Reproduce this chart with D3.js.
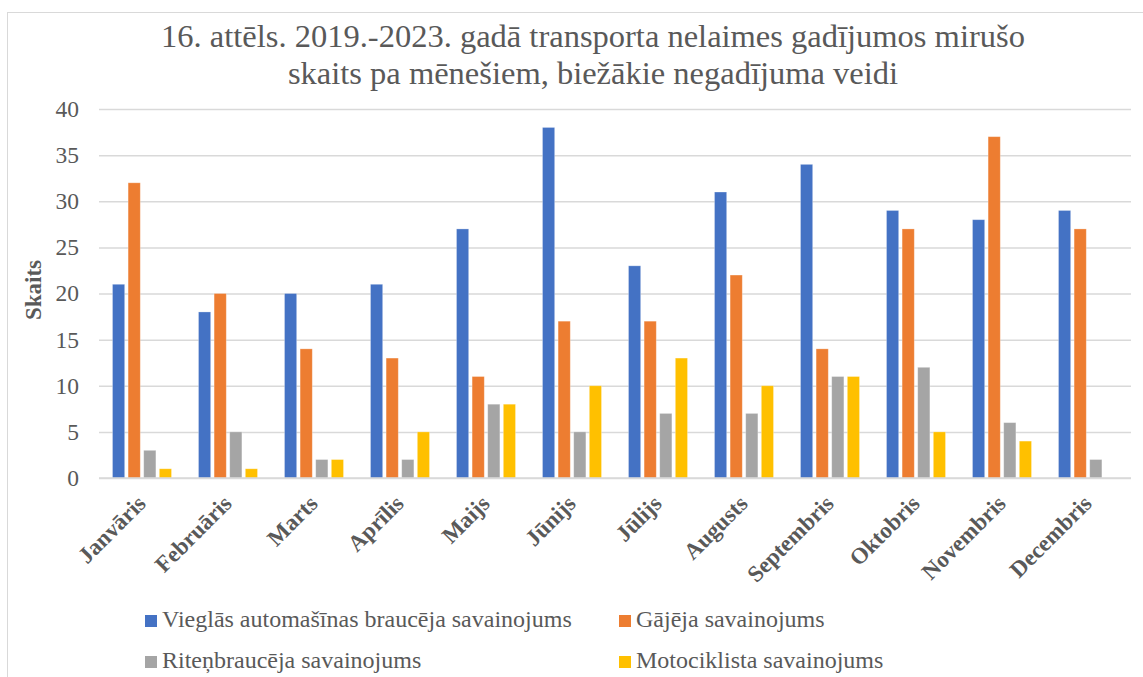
<!DOCTYPE html>
<html>
<head>
    <meta charset="utf-8">
    <title>16. attēls</title>
    <script src="https://d3js.org/d3.v7.min.js"></script>
</head>
<body style="margin:0;background:#fff">
    <script>
        const [width, height] = [1143, 677]
        const serif = "Liberation Serif";

        // data
        const months = ["Janvāris", "Februāris", "Marts", "Aprīlis", "Maijs", "Jūnijs",
            "Jūlijs", "Augusts", "Septembris", "Oktobris", "Novembris", "Decembris"];
        const seriesNames = ["Vieglās automašīnas braucēja savainojums", "Gājēja savainojums",
            "Riteņbraucēja savainojums", "Motociklista savainojums"];
        const seriesColors = ["#4472c4", "#ed7d31", "#a5a5a5", "#ffc000"];
        const carValues = [21, 18, 20, 21, 27, 38, 23, 31, 34, 29, 28, 29];
        const pedestrianValues = [32, 20, 14, 13, 11, 17, 17, 22, 14, 27, 37, 27];
        const cyclistValues = [3, 5, 2, 2, 8, 5, 7, 7, 11, 12, 6, 2];
        const motoValues = [1, 1, 2, 5, 8, 10, 13, 10, 11, 5, 4, 0];
        const yTicks = [0, 5, 10, 15, 20, 25, 30, 35, 40];
        const titleLines = ["16. attēls. 2019.-2023. gadā transporta nelaimes gadījumos mirušo",
            "skaits pa mēnešiem, biežākie negadījuma veidi"];

        const allValues = [carValues, pedestrianValues, cyclistValues, motoValues];
        const rows = months.map((m, i) => ({
            month: m,
            values: seriesNames.map((s, j) => ({ series: s, color: seriesColors[j], value: allValues[j][i] }))
        }));

        const svg = d3.select("body")
            .append("svg")
            .attr("width", width)
            .attr("height", height)
            .style("display", "block");

        // chart frame
        svg.append("rect")
            .attr("x", 7.5).attr("y", 12.5)
            .attr("width", 1160).attr("height", 700)
            .style("fill", "none")
            .style("stroke", "#d9d9d9")
            .style("stroke-width", 1);

        // title
        svg.append("g").selectAll("text")
            .data(titleLines)
            .enter()
            .append("text")
            .attr("x", 593)
            .attr("y", (d, i) => 47 + i * 37)
            .attr("text-anchor", "middle")
            .style("font-family", serif)
            .style("font-size", "32.5px")
            .style("fill", "#595959")
            .text(d => d);

        const x0 = d3.scaleBand().domain(months).range([99, 1131]).padding(0);
        const x1 = d3.scaleBand().domain(seriesNames).range([13.5, 72.5]).paddingInner(0.22);
        const y = d3.scaleLinear().domain([0, 40]).range([478, 109]);

        // gridlines
        svg.append("g")
            .attr("transform", "translate(99,0)")
            .call(d3.axisLeft(y).tickValues(yTicks).tickSize(-(1131 - 99)).tickFormat(""))
            .call(g => g.select(".domain").remove())
            .call(g => g.selectAll("line").style("stroke", "#d9d9d9").style("stroke-width", 1.5));

        // y tick labels
        svg.append("g").selectAll("text")
            .data(yTicks)
            .enter()
            .append("text")
            .attr("x", 79)
            .attr("y", d => y(d))
            .attr("dy", "0.34em")
            .attr("text-anchor", "end")
            .style("font-family", serif)
            .style("font-size", "23.5px")
            .style("fill", "#595959")
            .text(d => d);

        // y axis title
        svg.append("text")
            .attr("transform", "translate(41,290) rotate(-90)")
            .attr("text-anchor", "middle")
            .style("font-family", serif)
            .style("font-size", "23px")
            .style("font-weight", "bold")
            .style("fill", "#595959")
            .text("Skaits");

        // bars
        const group = svg.append("g").selectAll("g")
            .data(rows)
            .enter()
            .append("g")
            .attr("transform", d => `translate(${x0(d.month)},0)`);

        group.selectAll("rect")
            .data(d => d.values)
            .enter()
            .append("rect")
            .attr("x", d => x1(d.series))
            .attr("y", d => y(d.value))
            .attr("width", x1.bandwidth())
            .attr("height", d => y(0) - y(d.value))
            .style("fill", d => d.color)
            .style("stroke", "#fff")
            .style("stroke-opacity", 0.35)
            .style("stroke-width", 0.8);

        // baseline
        svg.append("line")
            .attr("x1", 99).attr("x2", 1131)
            .attr("y1", y(0)).attr("y2", y(0))
            .style("stroke", "#d9d9d9")
            .style("stroke-width", 1.5);

        // x labels
        svg.append("g").selectAll("text")
            .data(months)
            .enter()
            .append("text")
            .attr("transform", d => `translate(${x0(d) + x0.bandwidth() / 2 + 5},${505}) rotate(-45)`)
            .attr("text-anchor", "end")
            .style("font-family", serif)
            .style("font-size", "23px")
            .style("font-weight", "bold")
            .style("fill", "#595959")
            .text(d => d);

        // legend
        const legendPos = [[145, 627], [619, 627], [145, 668], [619, 668]];
        const legend = svg.append("g").selectAll("g")
            .data(seriesNames)
            .enter()
            .append("g")
            .attr("transform", (d, i) => `translate(${legendPos[i][0]},${legendPos[i][1]})`);

        legend.append("rect")
            .attr("x", 0).attr("y", -12)
            .attr("width", 12).attr("height", 12)
            .style("fill", (d, i) => seriesColors[i]);

        legend.append("text")
            .attr("x", 17)
            .attr("y", 0)
            .style("font-family", serif)
            .style("font-size", "24px")
            .style("fill", "#595959")
            .text(d => d);
    </script>
</body>
</html>
